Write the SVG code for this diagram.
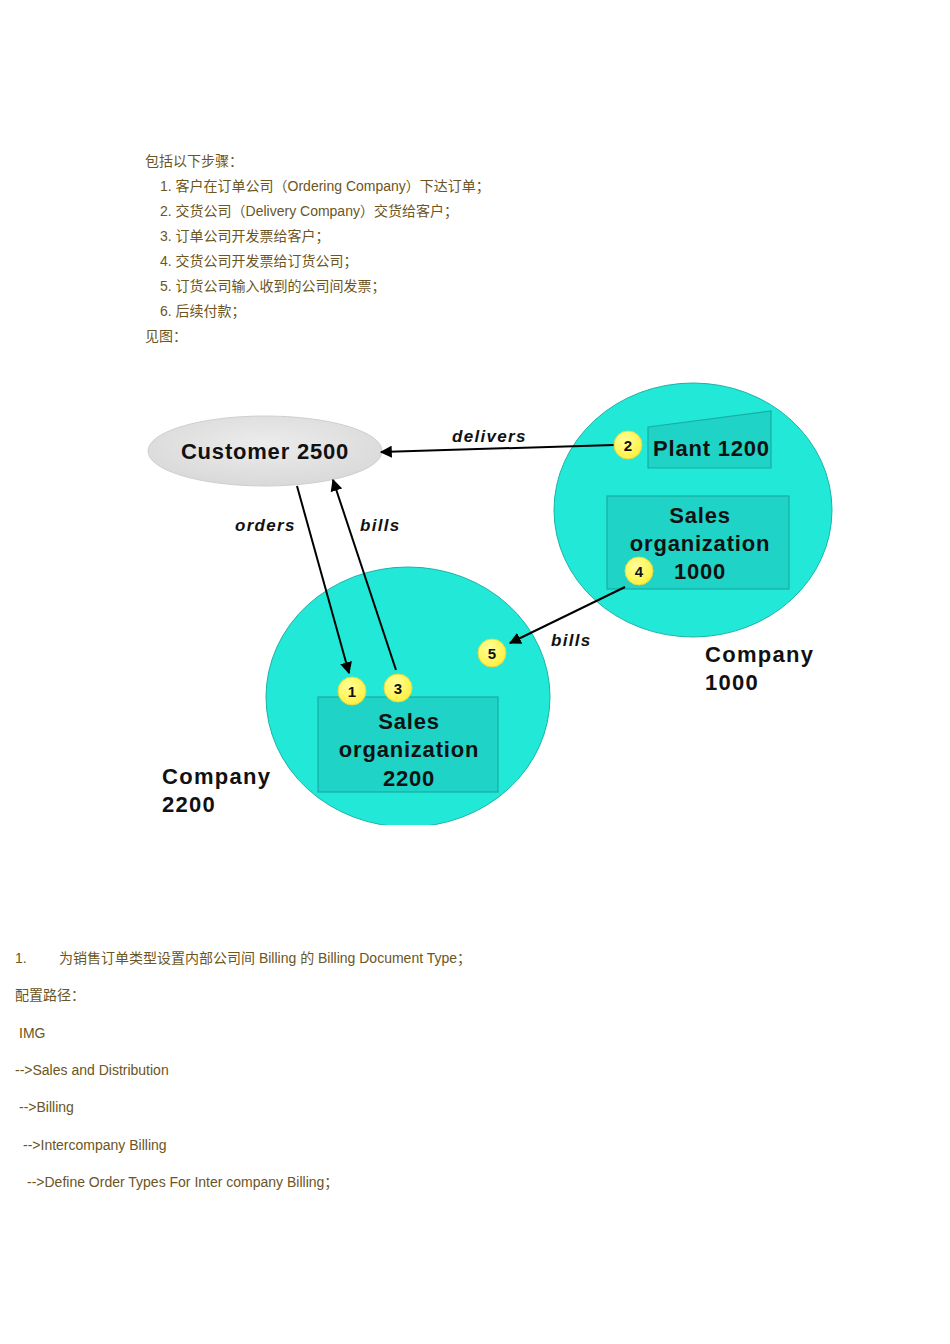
<svg xmlns="http://www.w3.org/2000/svg" width="950" height="1344" viewBox="0 0 950 1344">
<style>
.t{font-family:"Liberation Sans","Noto Sans CJK SC",sans-serif;font-size:14px;fill:#6b5522}
.b{font-family:"Liberation Sans",Arial,sans-serif;font-weight:bold;font-size:22px;fill:#111;letter-spacing:0.8px}
.co{letter-spacing:1.3px}
.c{text-anchor:middle}
.lab{font-family:"Liberation Sans",Arial,sans-serif;font-weight:bold;font-style:italic;font-size:17px;fill:#111;letter-spacing:1.3px}
.num{font-family:"Liberation Sans",Arial,sans-serif;font-weight:bold;font-size:15px;fill:#111;text-anchor:middle}
.org{fill:#22e8d8;stroke:#1bb3a6;stroke-width:1}
.box{fill:#1fd3c6;stroke:#17aea3;stroke-width:1.2}
.dot{fill:url(#yg);stroke:#e6d84a;stroke-width:1}
.ar{stroke:#000;stroke-width:2;fill:none;marker-end:url(#ah)}
</style>
<defs>
<marker id="ah" viewBox="0 0 10 10" refX="9" refY="5" markerWidth="6" markerHeight="6" orient="auto" markerUnits="strokeWidth">
<path d="M0,0 L10,5 L0,10 z" fill="#000"/>
</marker>
<radialGradient id="yg" cx="0.4" cy="0.35" r="0.7">
<stop offset="0" stop-color="#ffff9a"/>
<stop offset="1" stop-color="#ffef3a"/>
</radialGradient>
<radialGradient id="gg" cx="0.5" cy="0.4" r="0.6">
<stop offset="0" stop-color="#ececec"/>
<stop offset="1" stop-color="#d9d9d9"/>
</radialGradient>
<clipPath id="clip"><rect x="0" y="0" width="950" height="825"/></clipPath>
</defs>

<g id="intro">
<text class="t" x="145" y="166">包括以下步骤：</text>
<text class="t" x="160" y="191">1. 客户在订单公司（Ordering Company）下达订单；</text>
<text class="t" x="160" y="216">2. 交货公司（Delivery Company）交货给客户；</text>
<text class="t" x="160" y="241">3. 订单公司开发票给客户；</text>
<text class="t" x="160" y="266">4. 交货公司开发票给订货公司；</text>
<text class="t" x="160" y="291">5. 订货公司输入收到的公司间发票；</text>
<text class="t" x="160" y="316">6. 后续付款；</text>
<text class="t" x="145" y="341">见图：</text>
</g>

<g clip-path="url(#clip)">
<g id="company1000">
<ellipse class="org" cx="693" cy="510" rx="139" ry="127"/>
<text class="b co" x="705" y="662">Company</text>
<text class="b co" x="705" y="690">1000</text>
</g>
<g id="company2200">
<ellipse class="org" cx="408" cy="697" rx="142" ry="130"/>
<text class="b co" x="162" y="784">Company</text>
<text class="b co" x="162" y="812">2200</text>
</g>
<g id="customer">
<ellipse cx="265" cy="451" rx="117" ry="35" fill="url(#gg)" stroke="#cfcfcf" stroke-width="1"/>
<text class="b c" x="265" y="459">Customer 2500</text>
</g>
<g id="plant1200">
<path class="box" d="M648,427 L771,411 L771,468 L648,468 Z"/>
<text class="b" x="653" y="456">Plant 1200</text>
</g>
<g id="salesorg1000">
<rect class="box" x="607" y="496" width="182" height="93"/>
<text class="b c" x="700" y="523">Sales</text>
<text class="b c" x="700" y="551">organization</text>
<text class="b c" x="700" y="579">1000</text>
</g>
<g id="salesorg2200">
<rect class="box" x="318" y="697" width="180" height="95"/>
<text class="b c" x="409" y="729">Sales</text>
<text class="b c" x="409" y="757">organization</text>
<text class="b c" x="409" y="786">2200</text>
</g>

<g id="connectors">
<line class="ar" x1="614" y1="445" x2="381" y2="452"/>
<line class="ar" x1="297" y1="486" x2="349" y2="673"/>
<line class="ar" x1="396" y1="670" x2="333" y2="480"/>
<line class="ar" x1="625" y1="587" x2="510" y2="643"/>
<text class="lab" x="452" y="442">delivers</text>
<text class="lab" x="235" y="531">orders</text>
<text class="lab" x="360" y="531">bills</text>
<text class="lab" x="551" y="646">bills</text>
</g>

<g id="step1"><circle class="dot" cx="352" cy="691" r="14"/><text class="num" x="352" y="697">1</text></g>
<g id="step2"><circle class="dot" cx="628" cy="445" r="14"/><text class="num" x="628" y="451">2</text></g>
<g id="step3"><circle class="dot" cx="398" cy="688" r="14"/><text class="num" x="398" y="694">3</text></g>
<g id="step4"><circle class="dot" cx="639" cy="571" r="14"/><text class="num" x="639" y="577">4</text></g>
<g id="step5"><circle class="dot" cx="492" cy="653" r="14"/><text class="num" x="492" y="659">5</text></g>
</g>

<g id="config">
<text class="t" x="15" y="963">1.</text>
<text class="t" x="59" y="963">为销售订单类型设置内部公司间 Billing 的 Billing Document Type；</text>
<text class="t" x="15" y="1000">配置路径：</text>
<text class="t" x="19" y="1038">IMG</text>
<text class="t" x="15" y="1075">--&gt;Sales and Distribution</text>
<text class="t" x="19" y="1112">--&gt;Billing</text>
<text class="t" x="23" y="1150">--&gt;Intercompany Billing</text>
<text class="t" x="27" y="1187">--&gt;Define Order Types For Inter company Billing；</text>
</g>
</svg>
